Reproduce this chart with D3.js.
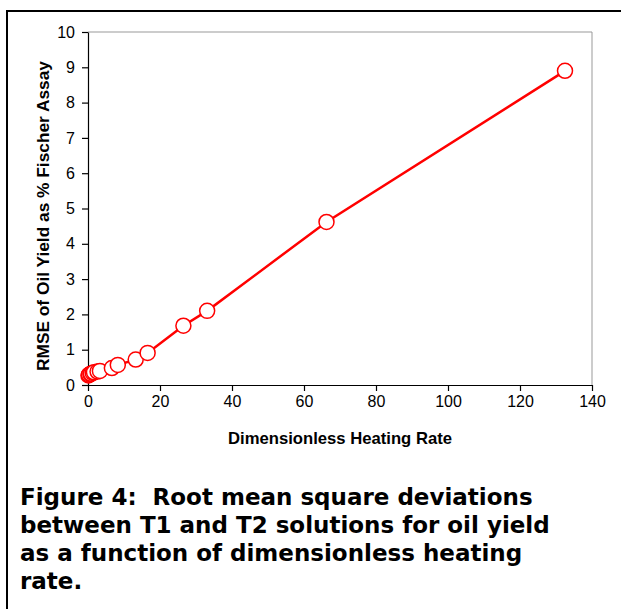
<!DOCTYPE html>
<html lang="en">
<head>
<meta charset="UTF-8">
<title>Figure 4</title>
<script src="https://d3js.org/d3.v7.min.js"></script>
<style>
    body { margin: 0; background: #fff; }
</style>
</head>
<body>
<div id="main"></div>
<script>
    // dimensionless heating rate vs RMSE (% Fischer Assay)
    const heatingRate = [0.13, 0.27, 0.66, 0.83, 1.33, 1.66, 2.65, 3.31, 6.63, 8.28, 13.25, 16.56, 26.5, 33.1, 66.25, 132.5]
    const rmse = [0.27, 0.29, 0.31, 0.32, 0.34, 0.36, 0.38, 0.40, 0.48, 0.57, 0.72, 0.91, 1.68, 2.10, 4.62, 8.90]
    const xTicks = [0, 20, 40, 60, 80, 100, 120, 140]
    const yTicks = [0, 1, 2, 3, 4, 5, 6, 7, 8, 9, 10]
    const captionLines = [
        "Figure 4:  Root mean square deviations",
        "between T1 and T2 solutions for oil yield",
        "as a function of dimensionless heating",
        "rate."
    ]

    let W = 621, H = 609
    let plot = {left: 88, right: 592, top: 32, bottom: 385}
    let sans = "'Liberation Sans', Arial, sans-serif"

    let svg = d3.select("#main").append("svg")
        .attr("width", W)
        .attr("height", H)

    // outer frame
    svg.append("rect")
        .attr("x", 7).attr("y", 11)
        .attr("width", 640).attr("height", 640)
        .attr("fill", "none")
        .attr("stroke", "#000")
        .attr("stroke-width", 2)

    let x = d3.scaleLinear().domain([0, 140]).range([plot.left, plot.right])
    let y = d3.scaleLinear().domain([0, 10]).range([plot.bottom, plot.top])

    // plot area border (grey top/right)
    svg.append("path")
        .attr("d", `M ${plot.left},${plot.top} L ${plot.right},${plot.top} L ${plot.right},${plot.bottom}`)
        .attr("fill", "none")
        .attr("stroke", "#999")
        .attr("stroke-width", 1)

    let xAxis = d3.axisBottom(x).tickValues(xTicks).tickSize(6).tickSizeOuter(0).tickPadding(5)
    let yAxis = d3.axisLeft(y).tickValues(yTicks).tickSize(6).tickSizeOuter(0).tickPadding(7)

    let gx = svg.append("g")
        .attr("transform", `translate(0, ${plot.bottom})`)
        .call(xAxis)
    let gy = svg.append("g")
        .attr("transform", `translate(${plot.left}, 0)`)
        .call(yAxis)

    ;[gx, gy].forEach(g => {
        g.select(".domain").attr("stroke", "#000").attr("stroke-width", 1.2)
        g.selectAll(".tick line").attr("stroke", "#000").attr("stroke-width", 1.2)
        g.selectAll(".tick text")
            .style("font-family", sans)
            .style("font-size", "16px")
            .attr("fill", "#000")
    })

    // axis titles
    svg.append("text")
        .attr("x", 340)
        .attr("y", 444)
        .attr("text-anchor", "middle")
        .attr("textLength", 224)
        .attr("lengthAdjust", "spacingAndGlyphs")
        .style("font-family", sans)
        .style("font-size", "17px")
        .style("font-weight", "bold")
        .text("Dimensionless Heating Rate")

    svg.append("text")
        .attr("transform", "translate(49, 216) rotate(-90)")
        .attr("text-anchor", "middle")
        .attr("textLength", 310)
        .attr("lengthAdjust", "spacingAndGlyphs")
        .style("font-family", sans)
        .style("font-size", "17px")
        .style("font-weight", "bold")
        .text("RMSE of Oil Yield as % Fischer Assay")

    // series
    let pts = heatingRate.map((d, i) => [d, rmse[i]])

    svg.append("path")
        .datum(pts)
        .attr("d", d3.line().x(d => x(d[0])).y(d => y(d[1])))
        .attr("fill", "none")
        .attr("stroke", "#ff0000")
        .attr("stroke-width", 2.5)

    svg.append("g").selectAll("circle")
        .data(pts)
        .enter()
        .append("circle")
        .attr("cx", d => x(d[0]))
        .attr("cy", d => y(d[1]))
        .attr("r", 7.5)
        .attr("fill", "#fff")
        .attr("stroke", "#ff0000")
        .attr("stroke-width", 1.5)

    // caption
    svg.append("g").selectAll("text")
        .data(captionLines)
        .enter()
        .append("text")
        .attr("x", 20)
        .attr("y", (d, i) => 505 + i * 28)
        .style("font-family", "'DejaVu Sans', Verdana, sans-serif")
        .style("font-weight", "bold")
        .style("font-size", "23px")
        .style("white-space", "pre")
        .attr("fill", "#000")
        .text(d => d)
</script>
</body>
</html>
